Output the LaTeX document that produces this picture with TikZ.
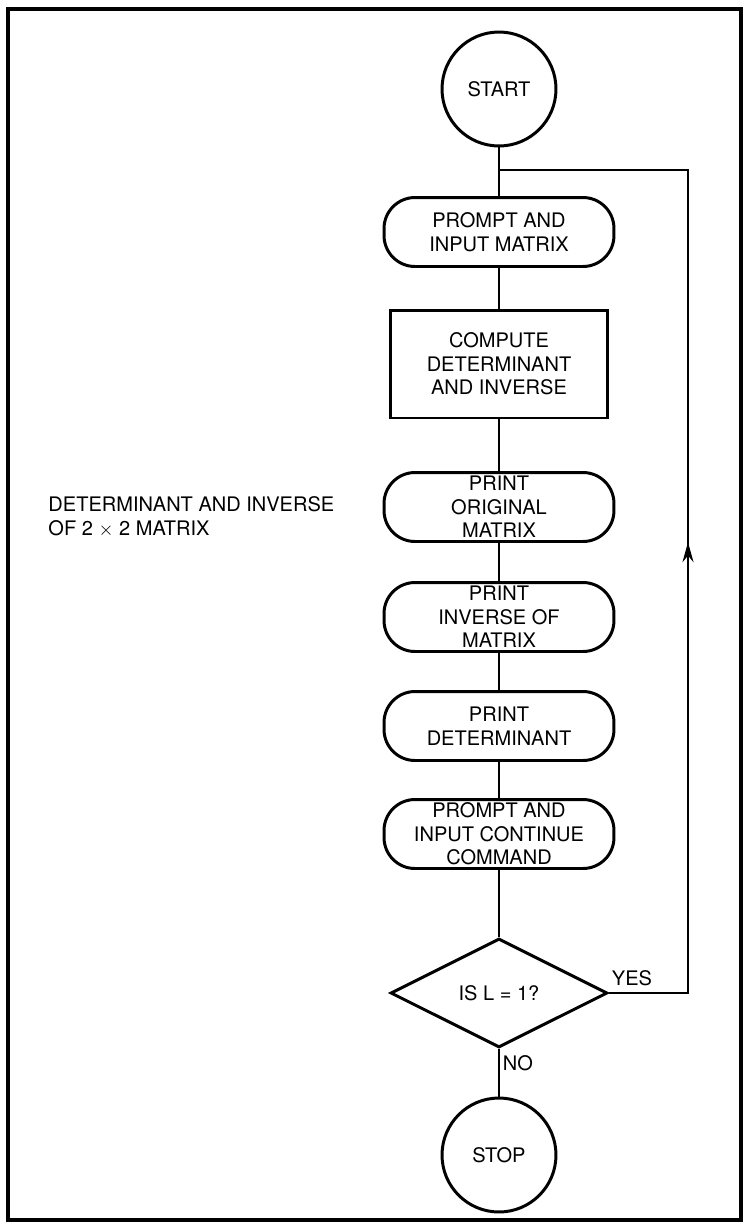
\documentclass[tikz,border=0pt]{standalone}
\usepackage{fontspec}
\setmainfont{TeX Gyre Heros}
\usetikzlibrary{arrows, arrows.meta, shapes.geometric, decorations.markings}

\begin{document}
\begin{tikzpicture}[x=0.02cm, y=-0.02cm, line width=1.7pt,
                    font=\fontsize{11.4}{13.4}\selectfont]
  \tikzstyle{terminal}=[circle,draw,minimum size=2.28cm,inner sep=0pt]
  \tikzstyle{io}=[rectangle,draw,rounded corners=0.62cm,minimum width=4.6cm,minimum height=1.38cm,inner sep=0pt,align=center]
  \tikzstyle{process}=[rectangle,draw,minimum width=4.36cm,minimum height=2.16cm,inner sep=0pt,align=center]
  \tikzstyle{decision}=[diamond,draw,aspect=2,minimum width=4.34cm,minimum height=2.18cm,inner sep=0pt]
  \tikzstyle{loopline}=[line width=1.3pt,postaction={decorate},
    decoration={markings,mark=at position 10.6cm with {\arrow{Stealth[length=0.4cm,width=0.22cm]}}}]

  \useasboundingbox (0,0) rectangle (747,1225);
  \draw[line width=2.8pt] (8,9) rectangle (741,1220);

  \node[align=left,anchor=west,inner sep=0pt] (title) at (47, 517) {DETERMINANT AND INVERSE\\OF 2 $\times$ 2 MATRIX};

  \node[terminal]     (start) at (499, 89)     {START};
  \node[io]           (prompt) at (499, 232)   {PROMPT AND\\INPUT MATRIX};
  \node[process]      (compute) at (499, 364)  {COMPUTE\\DETERMINANT\\AND INVERSE};
  \node[io]           (orig) at (499, 507)     {PRINT\\ORIGINAL\\MATRIX};
  \node[io]           (inv) at (499, 617)      {PRINT\\INVERSE OF\\MATRIX};
  \node[io]           (det) at (499, 726)      {PRINT\\DETERMINANT};
  \node[io]           (cont) at (499, 834)     {PROMPT AND\\INPUT CONTINUE\\COMMAND};
  \node[decision]     (test) at (499, 993)     {IS L = 1?};
  \node[terminal]     (stop) at (499, 1155)    {STOP};
  \node               (yes) at (632, 978)      {YES};
  \node               (no) at (518, 1063)      {NO};

  \coordinate (rt) at (688, 170);
  \coordinate (join) at (499, 170);

  \path (start) edge (prompt);
  \path (prompt) edge (compute);
  \path (compute) edge (orig);
  \path (orig) edge (inv);
  \path (inv) edge (det);
  \path (det) edge (cont);
  \path (cont) edge (test);
  \path (test) edge (stop);
  \draw[loopline] (test.east) -| (rt) -- (join);
\end{tikzpicture}
\end{document}
